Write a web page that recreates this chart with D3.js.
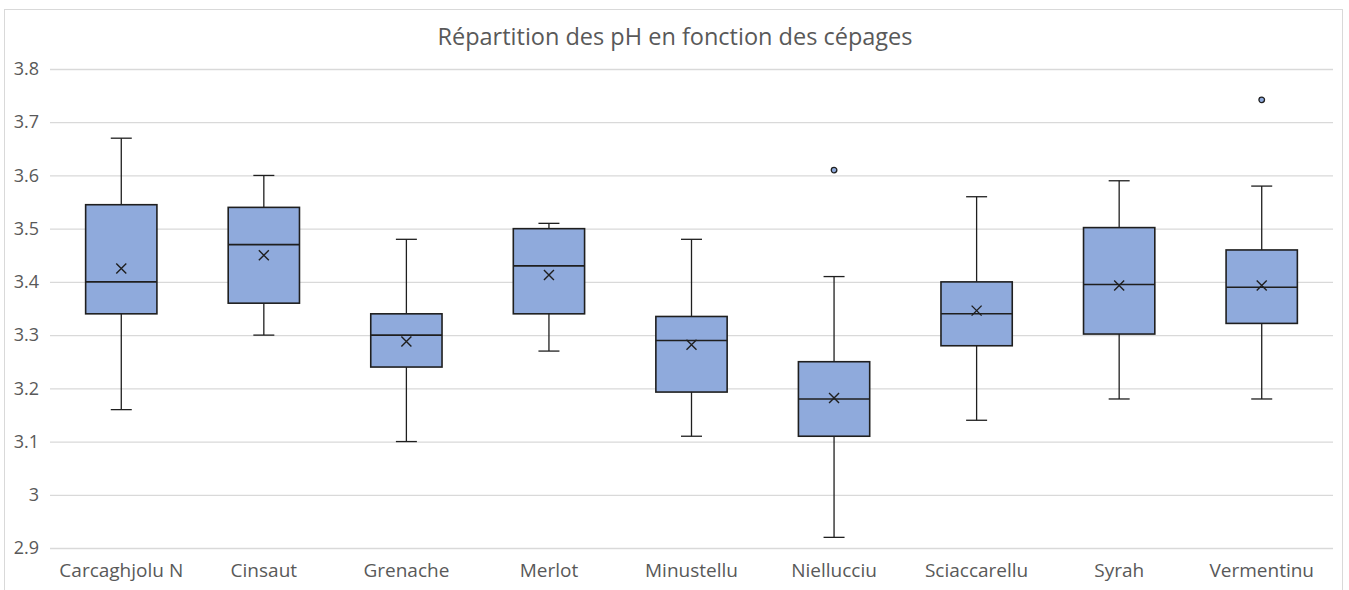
<!DOCTYPE html>
<html>
<head>
<meta charset="utf-8">
<script src="https://cdn.jsdelivr.net/npm/d3@7"></script>
<style>
  body { margin: 0; background: #fff; }
</style>
</head>
<body>
<div id="chart"></div>
<script>
// valeurs
var cepages = ["Carcaghjolu N", "Cinsaut", "Grenache", "Merlot", "Minustellu",
               "Niellucciu", "Sciaccarellu", "Syrah", "Vermentinu"];
var minimums = [3.16, 3.30, 3.10, 3.27, 3.11, 2.92, 3.14, 3.18, 3.18];
var q1       = [3.34, 3.36, 3.24, 3.34, 3.193, 3.11, 3.28, 3.302, 3.322];
var medianes = [3.40, 3.47, 3.30, 3.43, 3.29, 3.18, 3.34, 3.395, 3.39];
var q3       = [3.545, 3.54, 3.34, 3.50, 3.335, 3.25, 3.40, 3.502, 3.46];
var maximums = [3.67, 3.60, 3.48, 3.51, 3.48, 3.41, 3.56, 3.59, 3.58];
var moyennes = [3.425, 3.45, 3.288, 3.413, 3.282, 3.182, 3.346, 3.393, 3.393];
var aberrants = [[], [], [], [], [], [3.61], [], [], [3.742]];
var ticksY = [2.9, 3, 3.1, 3.2, 3.3, 3.4, 3.5, 3.6, 3.7, 3.8];

var width = 1349;
var height = 590;
var margin = {top: 69, right: 16, bottom: 42, left: 50};

var svg = d3.select("#chart")
            .append("svg")
            .attr("width", width)
            .attr("height", height)
            .style("font-family", "'Open Sans', sans-serif");

// cadre du graphique
svg.append("rect")
   .attr("x", 4.5)
   .attr("y", 9.5)
   .attr("width", 1338)
   .attr("height", 600)
   .attr("fill", "#fff")
   .attr("stroke", "#d9d9d9");

svg.append("text")
   .attr("x", 675)
   .attr("y", 45)
   .attr("text-anchor", "middle")
   .attr("fill", "#595959")
   .style("font-size", "23.5px")
   .text("Répartition des pH en fonction des cépages");

var x = d3.scaleBand()
          .domain(cepages)
          .range([margin.left, width - margin.right])
          .paddingInner(0)
          .paddingOuter(0);

var y = d3.scaleLinear()
          .domain([2.9, 3.8])
          .range([height - margin.bottom, margin.top]);

// grille horizontale
var yAxis = svg.append("g")
               .attr("transform", `translate(${margin.left},0)`)
               .call(d3.axisLeft(y)
                       .tickValues(ticksY)
                       .tickFormat(d => d3.format("~g")(d))
                       .tickSize(-(width - margin.right - margin.left))
                       .tickPadding(11));
yAxis.select(".domain").remove();
yAxis.selectAll(".tick line")
     .attr("stroke", "#d9d9d9")
     .attr("stroke-width", 1.3);
yAxis.selectAll(".tick text")
     .attr("fill", "#595959")
     .style("font-size", "18px")
     .style("font-family", "'Open Sans', sans-serif");

var xAxis = svg.append("g")
               .attr("transform", `translate(0,${height - margin.bottom})`)
               .call(d3.axisBottom(x).tickSize(0).tickPadding(16));
xAxis.select(".domain").remove();
xAxis.selectAll(".tick text")
     .attr("fill", "#595959")
     .style("font-size", "19px")
     .style("font-family", "'Open Sans', sans-serif");

var data = cepages.map((c, i) => ({
    nom: c, min: minimums[i], q1: q1[i], med: medianes[i], q3: q3[i],
    max: maximums[i], moy: moyennes[i], out: aberrants[i]
}));

var boxW = x.bandwidth() * 0.5;
var capW = 21;
var sombre = "#1f1f1f";

var g = svg.append("g");

var boite = g.selectAll("g.boite")
             .data(data)
             .enter()
             .append("g")
             .attr("class", "boite")
             .attr("transform", d => `translate(${x(d.nom) + x.bandwidth() / 2},0)`);

// moustaches
boite.append("line")
     .attr("x1", 0).attr("x2", 0)
     .attr("y1", d => y(d.max)).attr("y2", d => y(d.q3))
     .attr("stroke", sombre).attr("stroke-width", 1.3);
boite.append("line")
     .attr("x1", 0).attr("x2", 0)
     .attr("y1", d => y(d.q1)).attr("y2", d => y(d.min))
     .attr("stroke", sombre).attr("stroke-width", 1.3);
boite.append("line")
     .attr("x1", -capW / 2).attr("x2", capW / 2)
     .attr("y1", d => y(d.max)).attr("y2", d => y(d.max))
     .attr("stroke", sombre).attr("stroke-width", 1.3);
boite.append("line")
     .attr("x1", -capW / 2).attr("x2", capW / 2)
     .attr("y1", d => y(d.min)).attr("y2", d => y(d.min))
     .attr("stroke", sombre).attr("stroke-width", 1.3);

// boites
boite.append("rect")
     .attr("x", -boxW / 2)
     .attr("width", boxW)
     .attr("y", d => y(d.q3))
     .attr("height", d => y(d.q1) - y(d.q3))
     .attr("fill", "#8faadc")
     .attr("stroke", sombre)
     .attr("stroke-width", 1.6);

// medianes
boite.append("line")
     .attr("x1", -boxW / 2).attr("x2", boxW / 2)
     .attr("y1", d => y(d.med)).attr("y2", d => y(d.med))
     .attr("stroke", sombre).attr("stroke-width", 1.6);

// moyennes (croix)
var s = 5;
boite.append("path")
     .attr("d", d => `M${-s},${y(d.moy) - s}L${s},${y(d.moy) + s}M${-s},${y(d.moy) + s}L${s},${y(d.moy) - s}`)
     .attr("stroke", sombre)
     .attr("stroke-width", 1.4)
     .attr("fill", "none");

// points aberrants
boite.selectAll("circle")
     .data(d => d.out)
     .enter()
     .append("circle")
     .attr("cx", 0)
     .attr("cy", d => y(d))
     .attr("r", 2.8)
     .attr("fill", "#8faadc")
     .attr("stroke", sombre)
     .attr("stroke-width", 1.3);
</script>
</body>
</html>
